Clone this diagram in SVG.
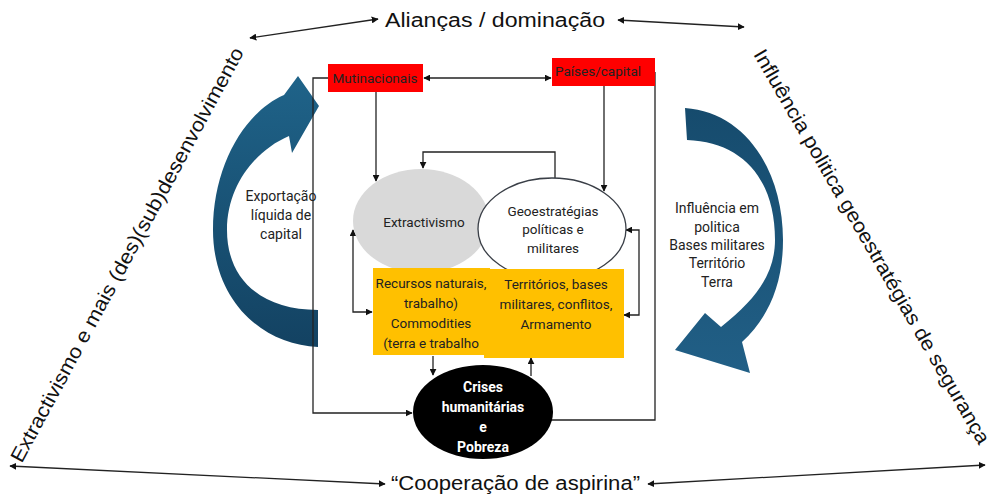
<svg xmlns="http://www.w3.org/2000/svg" width="995" height="498" viewBox="0 0 995 498">
<defs>
<marker id="ah" viewBox="0 0 10 10" refX="9" refY="5" markerWidth="7" markerHeight="7" markerUnits="userSpaceOnUse" orient="auto-start-reverse">
<path d="M0,0 L10,5 L0,10 Z" fill="#111"/>
</marker>
<linearGradient id="blueL" x1="0" y1="0" x2="0" y2="1">
<stop offset="0" stop-color="#1f6389"/>
<stop offset="1" stop-color="#134262"/>
</linearGradient>
<linearGradient id="blueR" x1="0" y1="0" x2="0" y2="1">
<stop offset="0" stop-color="#164b6d"/>
<stop offset="1" stop-color="#215f86"/>
</linearGradient>
</defs>
<style>
.big{font-family:"Liberation Sans",Arial,sans-serif;font-size:20px;fill:#111}
.sm{font-family:Roboto,"Noto Sans",sans-serif;font-size:14px;fill:#222;text-anchor:middle}
.box{font-family:Roboto,"Noto Sans",sans-serif;font-size:13.5px;fill:#222;text-anchor:middle}
.wt{font-family:Roboto,"Noto Sans",sans-serif;font-size:14px;font-weight:bold;fill:#fff;text-anchor:middle}
.ln{fill:none;stroke:#222;stroke-width:1.3}
.red{fill:#ff0000}
.yel{fill:#ffc000}
</style>
<rect width="995" height="498" fill="#fff"/>

<g id="labels">
<text class="big" x="385" y="27" textLength="220" lengthAdjust="spacingAndGlyphs">Alianças / dominação</text>
<text class="big" x="391" y="490" textLength="249" lengthAdjust="spacingAndGlyphs">“Cooperação de aspirina”</text>
<text class="big" transform="translate(133,258) rotate(-61.6)" text-anchor="middle" textLength="468" lengthAdjust="spacingAndGlyphs">Extractivismo e mais (des)(sub)desenvolvimento</text>
<text class="big" transform="translate(866,250) rotate(60)" text-anchor="middle" textLength="452" lengthAdjust="spacingAndGlyphs">Influência politica geoestratégias de segurança</text>
</g>

<g id="blue-arrow-left">
<path fill="url(#blueL)" d="M318,347 C262,345 213,300 213,230 C213,165 245,112 284,95 L298,76 L319,106 L292,153 L289,136 C256,150 227,185 227,230 C227,280 262,310 318,310 Z"/>
<text class="sm" x="281" y="201">Exportação</text>
<text class="sm" x="281" y="220">líquida de</text>
<text class="sm" x="281" y="239">capital</text>
</g>

<g id="blue-arrow-right">
<path fill="url(#blueR)" d="M685,108 C745,112 783,170 783,240 C783,285 768,318 742,342 L750,373 L675,350 L705,313 L721,327 C758,298 775,272 775,240 C775,178 742,142 687,140 Z"/>
<text class="sm" x="717" y="213">Influência em</text>
<text class="sm" x="717" y="232">politica</text>
<text class="sm" x="717" y="250">Bases militares</text>
<text class="sm" x="717" y="268">Território</text>
<text class="sm" x="717" y="287">Terra</text>
</g>

<g id="connectors">
<line class="ln" x1="378" y1="19" x2="250" y2="38" marker-start="url(#ah)" marker-end="url(#ah)"/>
<line class="ln" x1="618" y1="20" x2="744" y2="27" marker-start="url(#ah)" marker-end="url(#ah)"/>
<line class="ln" x1="385" y1="484" x2="10" y2="466" marker-start="url(#ah)" marker-end="url(#ah)"/>
<line class="ln" x1="648" y1="484" x2="985" y2="465" marker-start="url(#ah)" marker-end="url(#ah)"/>
<line class="ln" x1="424" y1="78" x2="551" y2="78" marker-start="url(#ah)" marker-end="url(#ah)"/>
<polyline class="ln" points="328,78 313,78 313,413 412,413" marker-end="url(#ah)"/>
<polyline class="ln" points="655,72 655,420 550,420"/>
<line class="ln" x1="376" y1="92" x2="376" y2="181" marker-end="url(#ah)"/>
<line class="ln" x1="604" y1="86" x2="604" y2="191" marker-end="url(#ah)"/>
<polyline class="ln" points="555,178 555,152 423,152 423,168" marker-end="url(#ah)"/>
<polyline class="ln" points="353,230 353,312 372,312" marker-start="url(#ah)" marker-end="url(#ah)"/>
<polyline class="ln" points="626,230 639,230 639,315 624,315" marker-start="url(#ah)" marker-end="url(#ah)"/>
<line class="ln" x1="433" y1="356" x2="433" y2="375" marker-end="url(#ah)"/>
<line class="ln" x1="531" y1="376" x2="531" y2="358" marker-end="url(#ah)"/>
</g>

<g id="mutinacionais">
<rect class="red" x="328" y="64" width="95" height="28"/>
<text class="box" x="375" y="83">Mutinacionais</text>
</g>
<g id="paises-capital">
<rect class="red" x="552" y="58" width="103" height="28"/>
<text class="box" x="598" y="76">Países/capital</text>
</g>

<g id="extractivismo">
<ellipse cx="421" cy="221" rx="68" ry="52" fill="#d9d9d9"/>
<text class="box" x="424" y="227">Extractivismo</text>
</g>

<g id="geoestrategias">
<ellipse cx="552" cy="229" rx="74" ry="51" fill="#fff" stroke="#3a3f47" stroke-width="1.3"/>
<text class="box" x="553" y="216">Geoestratégias</text>
<text class="box" x="553" y="234">políticas e</text>
<text class="box" x="553" y="253">militares</text>
</g>

<g id="territorios">
<rect class="yel" x="484" y="269" width="140" height="89"/>
<text class="box" x="556" y="289">Territórios, bases</text>
<text class="box" x="556" y="309">militares, conflitos,</text>
<text class="box" x="556" y="329">Armamento</text>
</g>

<g id="recursos">
<rect class="yel" x="373" y="268" width="117" height="87"/>
<text class="box" x="431" y="288">Recursos naturais,</text>
<text class="box" x="431" y="308">trabalho)</text>
<text class="box" x="431" y="328">Commodities</text>
<text class="box" x="431" y="348">(terra e trabalho</text>
</g>

<g id="crises">
<ellipse cx="483" cy="412" rx="70" ry="47" fill="#000"/>
<text class="wt" x="483" y="392">Crises</text>
<text class="wt" x="483" y="412">humanitárias</text>
<text class="wt" x="483" y="432">e</text>
<text class="wt" x="483" y="452">Pobreza</text>
</g>
</svg>
